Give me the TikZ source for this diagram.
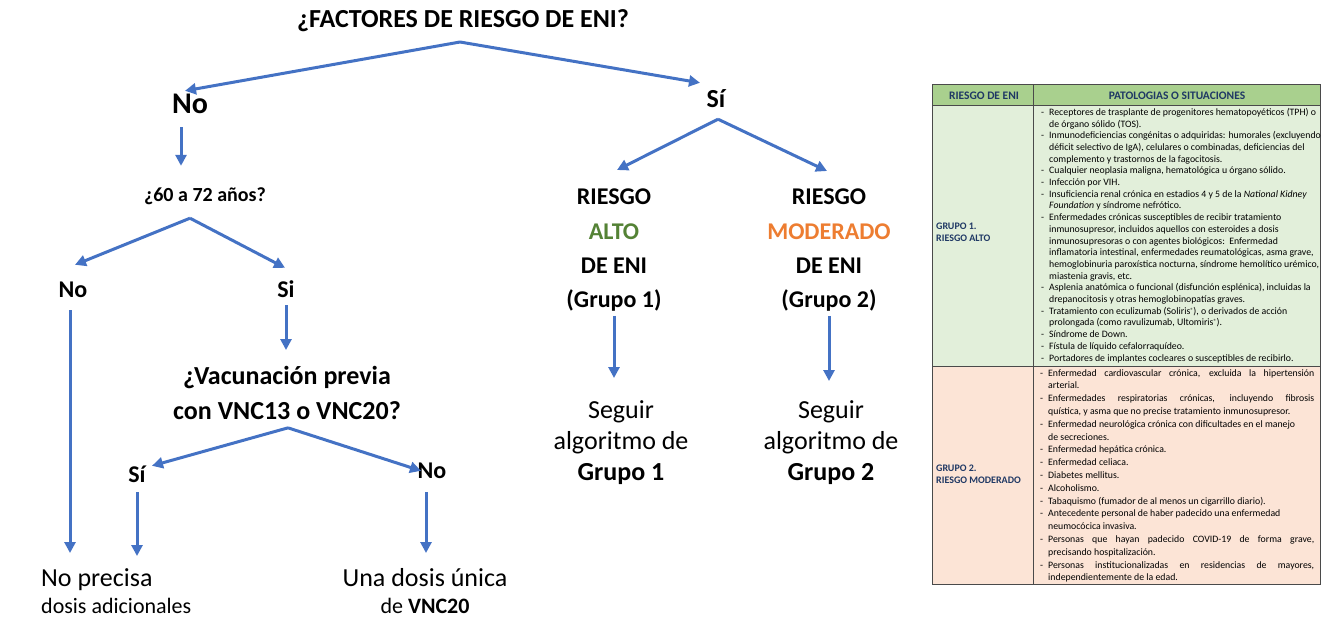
\documentclass[tikz,border=0pt]{standalone}
\usepackage{fontspec}
\setmainfont{Carlito}
\usetikzlibrary{arrows.meta}
\definecolor{arrowblue}{HTML}{4472C4}
\definecolor{altogreen}{HTML}{548235}
\definecolor{modorange}{HTML}{ED7D31}
\definecolor{hdrgreen}{HTML}{A9D08E}
\definecolor{gonefill}{HTML}{E2EFDA}
\definecolor{gtwofill}{HTML}{FCE4D6}
\definecolor{navytext}{HTML}{1F3864}
\definecolor{tableline}{HTML}{4A4A4A}
\newcommand{\regmark}{\raisebox{0.45ex}{\fontsize{6}{6}\selectfont ®}}
\newcommand{\bigline}[1]{{\fontsize{26}{27}\selectfont #1}}
\begin{document}
\begin{tikzpicture}[x=1pt,y=-1pt,
  arr/.style={draw=arrowblue, line width=3pt, -{Triangle[length=11pt,width=11pt]}},
  lbl/.style={font=\fontsize{24}{34.3}\selectfont\bfseries, inner sep=0pt, text height=17pt, text depth=5pt},
  multi/.style={font=\fontsize{24}{34.3}\selectfont\bfseries, inner sep=0pt, align=center, anchor=north},
  titlelbl/.style={font=\fontsize{26}{30}\selectfont\bfseries, inner sep=0pt},
  regtxt/.style={font=\fontsize{26}{31}\selectfont, inner sep=0pt, align=center, anchor=north},
  smalltxt/.style={font=\fontsize{22}{27}\selectfont, inner sep=0pt, anchor=north},
  hdr/.style={font=\fontsize{11.5}{13}\selectfont\bfseries, text=navytext, inner sep=0pt},
  grp/.style={font=\fontsize{10}{12.5}\selectfont\bfseries, text=navytext, inner sep=0pt, align=left, anchor=west},
  tline/.style={draw=tableline, line width=1pt}
]
\useasboundingbox (0,0) rectangle (1321,619);

% ---------- left decision tree ----------
\node[titlelbl] (title) at (463,21) {¿FACTORES DE RIESGO DE ENI?};
\coordinate (tapex) at (460,42);
\node[lbl, font=\fontsize{30}{34}\selectfont\bfseries, text height=21pt, text depth=6pt] (no1) at (190,106) {No};
\node[lbl, font=\fontsize{26}{30}\selectfont\bfseries] (si1) at (716,101) {Sí};
\node[lbl, font=\fontsize{20}{24}\selectfont\bfseries] (q60) at (205,195) {¿60 a 72 años?};
\node[lbl] (no2) at (73,291) {No};
\node[lbl] (si2) at (286,291) {Si};
\node[multi, font=\fontsize{26}{35}\selectfont\bfseries] (qvac) at (287,366) {¿Vacunación previa\\con VNC13 o VNC20?};
\node[lbl] (si3) at (137,476) {Sí};
\node[lbl] (no3) at (432,472) {No};
\node[smalltxt, anchor=north west, align=left] (noprec) at (41,568) {\bigline{No precisa}\\dosis adicionales};
\node[smalltxt, align=center] (unadosis) at (425,568) {\bigline{Una dosis única}\\de \textbf{VNC20}};

\node[multi] (alto) at (614,189) {RIESGO\\\textcolor{altogreen}{ALTO}\\DE ENI\\(Grupo 1)};
\node[multi] (mod) at (829,189) {RIESGO\\\textcolor{modorange}{MODERADO}\\DE ENI\\(Grupo 2)};
\node[regtxt] (seg1) at (621,400) {Seguir\\algoritmo de\\\textbf{Grupo 1}};
\node[regtxt] (seg2) at (831,400) {Seguir\\algoritmo de\\\textbf{Grupo 2}};

\draw[arr] (tapex) -- ([xshift=-5pt,yshift=1.5pt]no1.north);
\draw[arr] (tapex) -- ([xshift=-16pt,yshift=7pt]si1.north);
\draw[arr] ([xshift=-9pt,yshift=-7.5pt]no1.south) -- ([xshift=-24pt,yshift=18pt]q60.north);
\draw[arr] ([xshift=-15pt,yshift=-12pt]q60.south) -- ([xshift=2pt,yshift=15pt]no2.north);
\draw[arr] ([xshift=-15pt,yshift=-12pt]q60.south) -- ([xshift=-1pt,yshift=12pt]si2.north);
\draw[arr] ([xshift=-3pt,yshift=-8pt]no2.south) -- ([xshift=29pt,yshift=15pt]noprec.north west);
\draw[arr] ([yshift=-3pt]si2.south) -- ([xshift=-1pt,yshift=16pt]qvac.north);
\draw[arr] ([xshift=1pt,yshift=-8pt]qvac.south) -- ([xshift=15pt,yshift=-1pt]si3.north);
\draw[arr] ([xshift=1pt,yshift=-8pt]qvac.south) -- ([xshift=-11pt,yshift=-10pt]no3.north);
\draw[arr] ([yshift=-5pt]si3.south) -- ([xshift=96pt,yshift=12pt]noprec.north west);
\draw[arr] ([xshift=-6pt,yshift=-9pt]no3.south) -- ([xshift=1pt,yshift=15pt]unadosis.north);
\draw[arr] ([xshift=2pt,yshift=-7pt]si1.south) -- ([xshift=3pt,yshift=19pt]alto.north);
\draw[arr] ([xshift=2pt,yshift=-7pt]si1.south) -- ([xshift=-2pt,yshift=18pt]mod.north);
\draw[arr] ([yshift=-4pt]alto.south) -- ([xshift=-7pt,yshift=22pt]seg1.north);
\draw[arr] ([yshift=-4pt]mod.south) -- ([xshift=-2pt,yshift=19pt]seg2.north);

% ---------- table ----------
\fill[hdrgreen] (932,84) rectangle (1320,105);
\fill[gonefill] (932,105) rectangle (1320,366);
\fill[gtwofill] (932,366) rectangle (1320,584);
\draw[tline] (932,84) rectangle (1320,584);
\draw[tline] (932,105) -- (1320,105);
\draw[tline] (932,366) -- (1320,366);
\draw[tline] (1033,84) -- (1033,584);

\node[hdr] (h1) at (984,95.5) {RIESGO DE ENI};
\node[hdr] (h2) at (1177,95.5) {PATOLOGIAS O SITUACIONES};
\node[grp] (g1) at (936,232) {GRUPO 1.\\RIESGO ALTO};
\node[grp] (g2) at (936,474) {GRUPO 2.\\RIESGO MODERADO};

\node[anchor=north west, inner sep=0pt, font=\fontsize{9.8}{11.7}\selectfont] (g1text) at (1041,107) {%
\begin{tabular}{@{}l@{\hspace{5pt}}l@{}}
- & Receptores de trasplante de progenitores hematopoyéticos (TPH) o\\
  & de órgano sólido (TOS).\\
- & Inmunodeficiencias congénitas o adquiridas: humorales (excluyendo\\
  & déficit selectivo de IgA), celulares o combinadas, deficiencias del\\
  & complemento y trastornos de la fagocitosis.\\
- & Cualquier neoplasia maligna, hematológica u órgano sólido.\\
- & Infección por VIH.\\
- & Insuficiencia renal crónica en estadios 4 y 5 de la \textit{National Kidney}\\
  & \textit{Foundation} y síndrome nefrótico.\\
- & Enfermedades crónicas susceptibles de recibir tratamiento\\
  & inmunosupresor, incluidos aquellos con esteroides a dosis\\
  & inmunosupresoras o con agentes biológicos:\ \ Enfermedad\\
  & inflamatoria intestinal, enfermedades reumatológicas, asma grave,\\
  & hemoglobinuria paroxística nocturna, síndrome hemolítico urémico,\\
  & miastenia gravis, etc.\\
- & Asplenia anatómica o funcional (disfunción esplénica), incluidas la\\
  & drepanocitosis y otras hemoglobinopatías graves.\\
- & Tratamiento con eculizumab (Soliris\regmark), o derivados de acción\\
  & prolongada (como ravulizumab, Ultomiris\regmark).\\
- & Síndrome de Down.\\
- & Fístula de líquido cefalorraquídeo.\\
- & Portadores de implantes cocleares o susceptibles de recibirlo.
\end{tabular}};

\node[anchor=north west, inner sep=0pt, font=\fontsize{9.8}{12.8}\selectfont] (g2text) at (1040,367) {%
\begin{tabular}{@{}l@{\hspace{5pt}}l@{}}
- & \makebox[266pt][s]{Enfermedad cardiovascular crónica, excluida la hipertensión}\\
  & arterial.\\
- & \makebox[266pt][s]{Enfermedades respiratorias crónicas, incluyendo fibrosis}\\
  & quística, y asma que no precise tratamiento inmunosupresor.\\
- & Enfermedad neurológica crónica con dificultades en el manejo\\
  & de secreciones.\\
- & Enfermedad hepática crónica.\\
- & Enfermedad celiaca.\\
- & Diabetes mellitus.\\
- & Alcoholismo.\\
- & Tabaquismo (fumador de al menos un cigarrillo diario).\\
- & Antecedente personal de haber padecido una enfermedad\\
  & neumocócica invasiva.\\
- & \makebox[266pt][s]{Personas que hayan padecido COVID-19 de forma grave,}\\
  & precisando hospitalización.\\
- & \makebox[266pt][s]{Personas institucionalizadas en residencias de mayores,}\\
  & independientemente de la edad.
\end{tabular}};
\end{tikzpicture}
\end{document}
